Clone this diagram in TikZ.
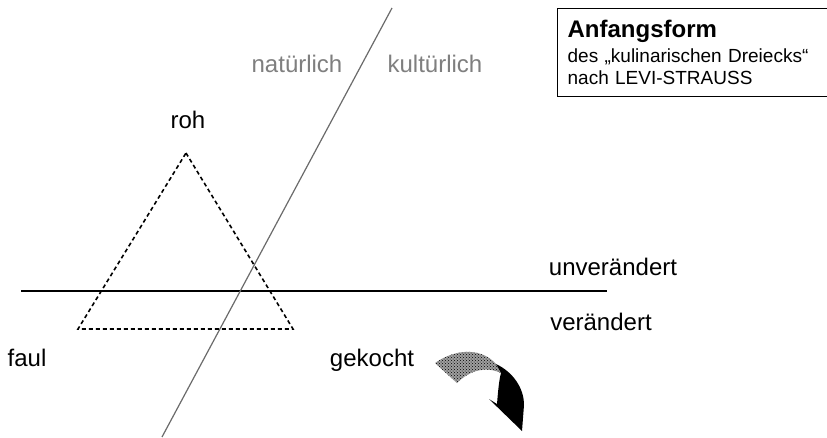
\documentclass[tikz,border=0pt]{standalone}
\usepackage{fontspec}
\setmainfont{Liberation Sans}
\usetikzlibrary{patterns, positioning}
\definecolor{cgrey}{HTML}{7F7F7F}
\definecolor{cline}{HTML}{6B6B6B}
\tikzset{
  every picture/.style={line width=1.2pt},
  lbl/.style={font=\fontsize{24}{28}\selectfont, anchor=base, inner sep=0pt},
  sidelbl/.style={lbl, text=cgrey},
  tri/.style={draw=black, dashed, dash pattern=on 4pt off 3pt, line width=1.6pt},
  infobox/.style={draw=black, line width=1.3pt, anchor=north west, align=left,
    font=\fontsize{19}{22}\selectfont, text width=300pt, minimum height=88pt,
    inner xsep=10pt, inner ysep=4pt},
}

\begin{document}
\begin{tikzpicture}[x=1pt, y=-1pt]
  \clip (0,0) rectangle (827,437);
  \fill[white] (0,0) rectangle (827,437);

  % axes
  \coordinate (hl) at (21,291);
  \coordinate (hr) at (607,291);
  \coordinate (dt) at (392,8);
  \coordinate (db) at (162,437);
  \draw (hl) -- (hr);
  \draw[cline] (dt) -- (db);

  % the triangle
  \coordinate (apex) at (186,153);
  \coordinate (bl) at (78,329);
  \coordinate (br) at (293,329);
  \draw[tri] (apex) -- (br) -- (bl) -- cycle;

  % labels
  \node[sidelbl] (nat) at (297,72) {natürlich};
  \node[sidelbl] (kult) at (435,72) {kultürlich};
  \node[lbl] (roh) at (188,128) {roh};
  \node[lbl] (unv) at (613,275) {unverändert};
  \node[lbl] (ver) at (601,330) {verändert};
  \node[lbl] (faul) at (27,366) {faul};
  \node[lbl] (gek) at (372,366) {gekocht};

  \node[infobox] (info) at (557,8) {{\bfseries\fontsize{24}{26}\selectfont Anfangsform}\\[3pt]
    des „kulinarischen Dreiecks“\\ nach LEVI-STRAUSS};

  % curved arrow
  \path[preaction={fill=gray!75}, pattern=crosshatch dots]
    (435,363) .. controls (458,347) and (483,349) .. (496,364)
    -- (501,373) .. controls (486,366) and (470,370) .. (457,383) -- cycle;
  \fill (496,364) .. controls (513,372) and (524,388) .. (524,405)
    -- (522,431) -- (489,399) -- (497,404)
    .. controls (498,392) and (499,380) .. (501,373) -- cycle;
\end{tikzpicture}
\end{document}
